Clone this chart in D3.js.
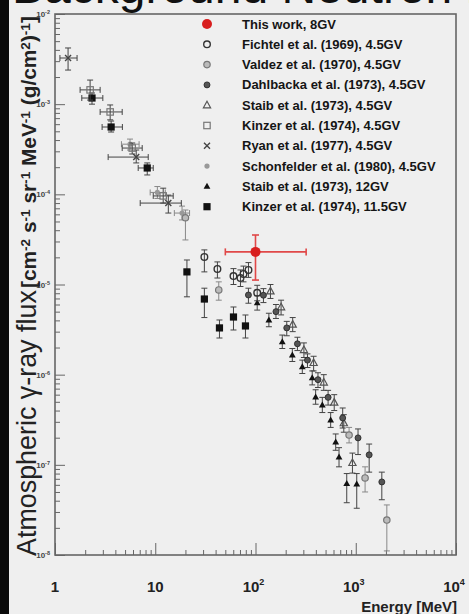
<!DOCTYPE html>
<html>
<head>
<meta charset="utf-8">
<script src="https://cdn.jsdelivr.net/npm/d3@7"></script>
<style>
  html, body { margin: 0; padding: 0; background: #efefef; }
  svg { display: block; font-family: "Liberation Sans", Arial, Helvetica, sans-serif; }
</style>
</head>
<body>
<svg id="chart" width="469" height="614"></svg>
<script>
// ---------- axis ticks ----------
const xTickValues = [1, 10, 100, 1000, 10000];
const xTickBase   = ["1", "10", "10", "10", "10"];
const xTickExp    = ["", "", "2", "3", "4"];
const yTickValues = [1e-2, 1e-3, 1e-4, 1e-5, 1e-6, 1e-7, 1e-8];
const yTickExp    = ["-2", "-3", "-4", "-5", "-6", "-7", "-8"];

// ---------- measurements: [E, Elow, Ehigh, flux, fluxLow, fluxHigh] ----------
const thisWork = [
  [100, 50, 320, 2.3e-5, 1.12e-5, 3.54e-5]
];
const fichtel = [
  [30.9, null, null, 2.02e-5, 1.38e-5, 2.42e-5],
  [41.7, null, null, 1.49e-5, 1.18e-5, 1.78e-5],
  [60.3, null, null, 1.24e-5, 1.0e-5, 1.5e-5],
  [70.8, null, null, 1.18e-5, 9.5e-6, 1.45e-5],
  [75.9, null, null, 1.31e-5, 1.07e-5, 1.6e-5],
  [85.1, null, null, 1.45e-5, 1.2e-5, 1.75e-5],
  [104, null, null, 8.1e-6, 6.6e-6, 9.8e-6]
];
const valdez = [
  [20.0, null, null, 5.5e-5, 3.12e-5, 6.7e-5],
  [43.0, null, null, 8.7e-6, 6.7e-6, 1.07e-5],
  [858, null, null, 2.14e-7, 1.75e-7, 2.6e-7],
  [1239, null, null, 7.15e-8, 5.0e-8, 9.5e-8],
  [2042, null, null, 2.44e-8, 1.11e-8, 3.59e-8]
];
const dahlbacka = [
  [85, null, null, 7.65e-6, 6.2e-6, 9.1e-6],
  [120, null, null, 7.6e-6, 6.3e-6, 9.0e-6],
  [160, null, null, 5.0e-6, 4.2e-6, 6.0e-6],
  [205, null, null, 3.3e-6, 2.7e-6, 3.9e-6],
  [262, null, null, 2.2e-6, 1.85e-6, 2.6e-6],
  [330, null, null, 1.45e-6, 1.2e-6, 1.7e-6],
  [420, null, null, 8.8e-7, 7.2e-7, 1.05e-6],
  [530, null, null, 5.6e-7, 4.6e-7, 6.7e-7],
  [741, null, null, 3.31e-7, 2.56e-7, 4.27e-7],
  [1054, null, null, 1.99e-7, 1.3e-7, 2.5e-7],
  [1361, null, null, 1.29e-7, 8.3e-8, 1.7e-7],
  [1820, null, null, 6.46e-8, 4.1e-8, 8.3e-8]
];
const staib45 = [
  [141, null, null, 8.4e-6, 7.0e-6, 1.0e-5],
  [180, null, null, 5.6e-6, 4.6e-6, 6.7e-6],
  [235, null, null, 3.6e-6, 3.0e-6, 4.3e-6],
  [304, null, null, 1.88e-6, 1.55e-6, 2.25e-6],
  [380, null, null, 1.35e-6, 1.1e-6, 1.6e-6],
  [480, null, null, 8.2e-7, 6.7e-7, 1.0e-6],
  [610, null, null, 4.9e-7, 4.0e-7, 6.0e-7],
  [760, null, null, 2.9e-7, 2.3e-7, 3.6e-7],
  [927, null, null, 1.05e-7, 8.1e-8, 1.35e-7]
];
const kinzer45 = [
  [2.24, 1.78, 2.82, 1.44e-3, 1.11e-3, 1.85e-3],
  [3.55, 2.82, 4.68, 8.2e-4, 6.7e-4, 9.8e-4],
  [5.89, 4.68, 7.41, 3.26e-4, 2.8e-4, 3.71e-4],
  [12.0, 9.55, 15.1, 9.6e-5, 8.0e-5, 1.17e-4]
];
const ryan = [
  [1.35, 1.12, 1.66, 3.25e-3, 2.39e-3, 4.2e-3],
  [6.46, 3.39, 8.51, 2.59e-4, 2.23e-4, 3.1e-4],
  [13.5, 7.08, 18.2, 8.0e-5, 6.2e-5, 9.8e-5]
];
const schonfelder = [
  [5.6, 4.6, 6.9, 3.6e-4, 3.1e-4, 4.1e-4],
  [10.5, 8.9, 12.6, 1.05e-4, 9.0e-5, 1.22e-4],
  [18.5, 15.5, 22.0, 6.2e-5, 5.2e-5, 7.4e-5]
];
const staib12 = [
  [104, null, null, 6.24e-6, 5.2e-6, 7.5e-6],
  [136, null, null, 4.04e-6, 3.4e-6, 4.8e-6],
  [185, null, null, 2.31e-6, 1.95e-6, 2.75e-6],
  [233, null, null, 1.65e-6, 1.4e-6, 1.95e-6],
  [293, null, null, 1.22e-6, 1.03e-6, 1.45e-6],
  [368, null, null, 9.2e-7, 7.7e-7, 1.1e-6],
  [398, null, null, 5.65e-7, 4.7e-7, 6.8e-7],
  [464, null, null, 4.61e-7, 3.8e-7, 5.6e-7],
  [562, null, null, 3.14e-7, 2.6e-7, 3.8e-7],
  [631, null, null, 1.79e-7, 1.45e-7, 2.2e-7],
  [681, null, null, 1.22e-7, 9.5e-8, 1.55e-7],
  [813, null, null, 6.2e-8, 3.8e-8, 8.0e-8],
  [1023, null, null, 6.1e-8, 3.3e-8, 8.0e-8]
];
const kinzer115 = [
  [2.34, 1.85, 3.0, 1.17e-3, 1.0e-3, 1.33e-3],
  [3.63, 2.95, 4.7, 5.58e-4, 4.91e-4, 6.5e-4],
  [8.32, 6.76, 9.55, 1.96e-4, 1.64e-4, 2.23e-4],
  [20.7, null, null, 1.38e-5, 7.3e-6, 1.87e-5],
  [30.9, null, null, 6.9e-6, 4.3e-6, 9.1e-6],
  [43.7, null, null, 3.3e-6, 2.55e-6, 4.04e-6],
  [60.3, null, null, 4.36e-6, 3.13e-6, 5.63e-6],
  [79.4, null, null, 3.47e-6, 2.55e-6, 4.59e-6]
];

// legend order, labels and marker styles
const seriesLabels = [
  "This work, 8GV",
  "Fichtel et al. (1969), 4.5GV",
  "Valdez et al. (1970), 4.5GV",
  "Dahlbacka et al. (1973), 4.5GV",
  "Staib et al. (1973), 4.5GV",
  "Kinzer et al. (1974), 4.5GV",
  "Ryan et al. (1977), 4.5GV",
  "Schonfelder et al. (1980), 4.5GV",
  "Staib et al. (1973), 12GV",
  "Kinzer et al. (1974), 11.5GV"
];
const seriesData = [thisWork, fichtel, valdez, dahlbacka, staib45, kinzer45, ryan, schonfelder, staib12, kinzer115];
const seriesMarker = ["red", "circleOpen", "greyCircle", "dot", "triOpen", "squareOpen", "cross", "greyDot", "triFill", "squareFill"];

// ---------- layout ----------
const svg = d3.select("#chart");
const W = 469, H = 614;
const plot = { left: 55, right: 456, top: 14, bottom: 555 };

const x = d3.scaleLog().domain([1, 1e4]).range([plot.left, plot.right]);
const y = d3.scaleLog().domain([1e-8, 1e-2]).range([plot.bottom, plot.top]);

svg.append("rect").attr("width", W).attr("height", H).attr("fill", "#efefef");

// heading above the frame (mostly beyond the top edge)
svg.append("text")
  .attr("x", 12).attr("y", 3)
  .attr("font-size", 48)
  .attr("fill", "#111")
  .text("Background Neutron Effect");

// dark strip along the left edge
svg.append("rect").attr("x", 0).attr("y", 0).attr("width", 9).attr("height", H).attr("fill", "#0a0a0a");

// ---------- axes ----------
const axisColor = "#666";
const xMinor = [], yMinor = [];
for (let d = 0; d < 4; d++) for (let k = 2; k <= 9; k++) xMinor.push(k * Math.pow(10, d));
for (let d = -8; d < -2; d++) for (let k = 2; k <= 9; k++) yMinor.push(k * Math.pow(10, d));

function styleAxis(g) {
  g.select(".domain").remove();
  g.selectAll("line").attr("stroke", axisColor).attr("stroke-width", 1);
}

svg.append("g").attr("transform", `translate(0,${plot.bottom})`)
  .call(d3.axisBottom(x).tickValues(xTickValues).tickSize(-12).tickFormat(""))
  .call(styleAxis);
svg.append("g").attr("transform", `translate(0,${plot.bottom})`)
  .call(d3.axisBottom(x).tickValues(xMinor).tickSize(-5).tickFormat(""))
  .call(styleAxis);
svg.append("g").attr("transform", `translate(${plot.left},0)`)
  .call(d3.axisLeft(y).tickValues(yTickValues).tickSize(-10).tickFormat(""))
  .call(styleAxis);
svg.append("g").attr("transform", `translate(${plot.left},0)`)
  .call(d3.axisLeft(y).tickValues(yMinor).tickSize(-5).tickFormat(""))
  .call(styleAxis);

// frame
svg.append("rect")
  .attr("x", plot.left).attr("y", plot.top)
  .attr("width", plot.right - plot.left).attr("height", plot.bottom - plot.top)
  .attr("fill", "none").attr("stroke", axisColor).attr("stroke-width", 1.6);

// x tick labels
xTickValues.forEach((v, i) => {
  const t = svg.append("text")
    .attr("x", x(v) + (xTickExp[i] ? -2 : 0)).attr("y", 592)
    .attr("text-anchor", "middle")
    .attr("font-size", 15).attr("font-weight", "bold").attr("fill", "#222");
  t.append("tspan").text(xTickBase[i]);
  if (xTickExp[i]) t.append("tspan").attr("dy", -7).attr("font-size", 9).text(xTickExp[i]);
});

// y tick labels
yTickValues.forEach((v, i) => {
  const t = svg.append("text")
    .attr("x", 50).attr("y", y(v) + 3)
    .attr("text-anchor", "end")
    .attr("font-size", 8).attr("font-weight", "bold").attr("fill", "#444");
  t.append("tspan").text("10");
  t.append("tspan").attr("dy", -3).attr("font-size", 5.5).text(yTickExp[i]);
});

// x axis title
svg.append("text")
  .attr("x", 457).attr("y", 612)
  .attr("text-anchor", "end")
  .attr("font-size", 15).attr("font-weight", "bold").attr("fill", "#222")
  .text("Energy [MeV]");

// y axis title: plain name followed by bold units
function fitLength(sel, target) {
  const len = sel.node().getComputedTextLength();
  const fs = parseFloat(sel.attr("font-size"));
  sel.attr("font-size", fs * target / len);
}

const yTitle1 = svg.append("text")
  .attr("transform", "translate(36,556) rotate(-90)")
  .attr("font-size", 25).attr("fill", "#222")
  .text("Atmospheric γ-ray flux");
fitLength(yTitle1, 266);

const yTitle2 = svg.append("text")
  .attr("transform", "translate(36,288) rotate(-90)")
  .attr("font-size", 17).attr("font-weight", "bold").attr("fill", "#222");
[["[cm", ""], ["", "-2"], [" s", ""], ["", "-1"], [" sr", ""], ["", "-1"], [" MeV", ""], ["", "-1"],
 [" (g/cm", ""], ["", "2"], [")", ""], ["", "-1"], ["]", ""]].forEach(([base, sup], i, arr) => {
  if (base) {
    const prevSup = i > 0 && arr[i - 1][1];
    yTitle2.append("tspan").attr("dy", prevSup ? 6 : 0).text(base);
  } else {
    yTitle2.append("tspan").attr("dy", -6).attr("font-size", "0.65em").text(sup);
  }
});
fitLength(yTitle2, 272);

// ---------- markers ----------
function drawMarker(g, type, cx, cy) {
  switch (type) {
    case "red":
      g.append("circle").attr("cx", cx).attr("cy", cy).attr("r", 5).attr("fill", "#d81e1e");
      break;
    case "circleOpen":
      g.append("circle").attr("cx", cx).attr("cy", cy).attr("r", 3.3)
        .attr("fill", "none").attr("stroke", "#333").attr("stroke-width", 1.4);
      break;
    case "greyCircle":
      g.append("circle").attr("cx", cx).attr("cy", cy).attr("r", 3.2)
        .attr("fill", "#bbb").attr("stroke", "#777").attr("stroke-width", 1.2);
      break;
    case "dot":
      g.append("circle").attr("cx", cx).attr("cy", cy).attr("r", 3)
        .attr("fill", "#555").attr("stroke", "#222").attr("stroke-width", 0.8);
      break;
    case "triOpen":
      g.append("path").attr("d", `M${cx},${cy - 4}L${cx + 3.6},${cy + 2.6}L${cx - 3.6},${cy + 2.6}Z`)
        .attr("fill", "none").attr("stroke", "#555").attr("stroke-width", 1.2);
      break;
    case "triFill":
      g.append("path").attr("d", `M${cx},${cy - 3.6}L${cx + 3.4},${cy + 2.4}L${cx - 3.4},${cy + 2.4}Z`)
        .attr("fill", "#111");
      break;
    case "squareOpen":
      g.append("rect").attr("x", cx - 3.2).attr("y", cy - 3.2).attr("width", 6.4).attr("height", 6.4)
        .attr("fill", "none").attr("stroke", "#777").attr("stroke-width", 1.2);
      break;
    case "squareFill":
      g.append("rect").attr("x", cx - 3.6).attr("y", cy - 3.6).attr("width", 7.2).attr("height", 7.2)
        .attr("fill", "#111");
      break;
    case "cross":
      g.append("path").attr("d", `M${cx - 3},${cy - 3}L${cx + 3},${cy + 3}M${cx - 3},${cy + 3}L${cx + 3},${cy - 3}`)
        .attr("stroke", "#444").attr("stroke-width", 1.4);
      break;
    case "greyDot":
      g.append("circle").attr("cx", cx).attr("cy", cy).attr("r", 2.6).attr("fill", "#999");
      break;
  }
}

// ---------- error bars and points ----------
const pts = svg.append("g");
function drawSeries(data, type) {
  const isRed = type === "red";
  const col = isRed ? "#e04848" : (type === "greyCircle" || type === "greyDot" ? "#888" : "#444");
  const sw = isRed ? 1.6 : 1;
  const cap = isRed ? 3.5 : 3;
  data.forEach(([e, e0, e1, f, f0, f1]) => {
    const g = pts.append("g");
    const cx = x(e), cy = y(f);
    // vertical error with end caps
    g.append("line").attr("x1", cx).attr("x2", cx).attr("y1", y(f1)).attr("y2", y(f0))
      .attr("stroke", col).attr("stroke-width", sw);
    [f0, f1].forEach(v => g.append("line")
      .attr("x1", cx - cap).attr("x2", cx + cap).attr("y1", y(v)).attr("y2", y(v))
      .attr("stroke", col).attr("stroke-width", sw));
    // horizontal error (energy bin) with end caps
    if (e0 !== null) {
      g.append("line").attr("x1", x(e0)).attr("x2", x(e1)).attr("y1", cy).attr("y2", cy)
        .attr("stroke", col).attr("stroke-width", sw);
      [e0, e1].forEach(v => g.append("line")
        .attr("x1", x(v)).attr("x2", x(v)).attr("y1", cy - cap).attr("y2", cy + cap)
        .attr("stroke", col).attr("stroke-width", sw));
    }
    drawMarker(g, type, cx, cy);
  });
}
// earlier-listed series end up on top
for (let i = seriesData.length - 1; i >= 0; i--) drawSeries(seriesData[i], seriesMarker[i]);

// ---------- legend ----------
const legend = svg.append("g");
seriesLabels.forEach((label, i) => {
  const ly = 24 + i * 20.3;
  drawMarker(legend, seriesMarker[i], 207, ly);
  legend.append("text")
    .attr("x", 242).attr("y", ly + 4.5)
    .attr("font-size", 13).attr("font-weight", "bold").attr("fill", "#151515")
    .text(label);
});
</script>
</body>
</html>
